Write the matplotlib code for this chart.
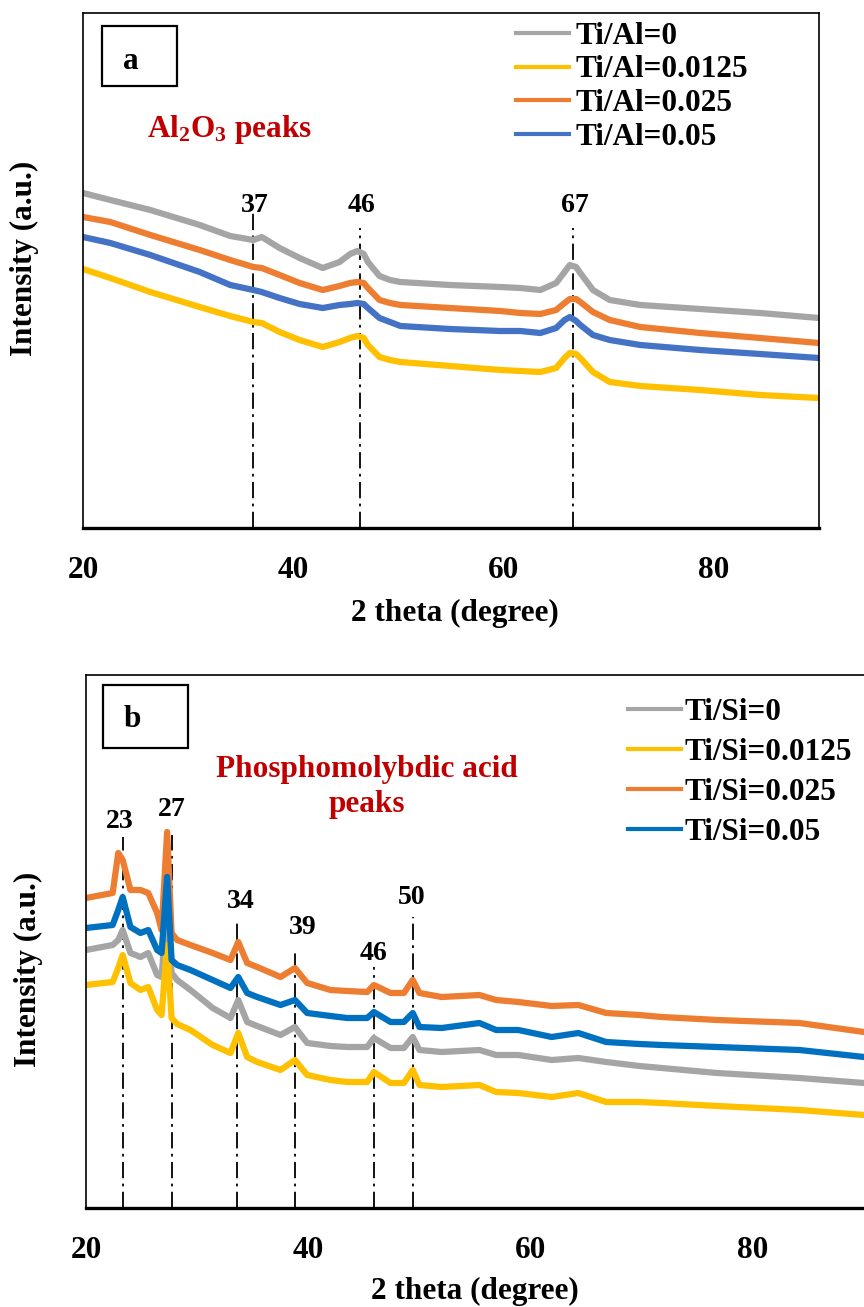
import matplotlib
matplotlib.use("Agg")
import matplotlib.pyplot as plt
from matplotlib.patches import Rectangle

# ---------- Fonts ----------
plt.rcParams["font.family"] = ["Liberation Serif", "DejaVu Serif"]
plt.rcParams["font.weight"] = "bold"
plt.rcParams["mathtext.fontset"] = "custom"
plt.rcParams["mathtext.rm"] = "Liberation Serif:bold"
plt.rcParams["mathtext.default"] = "rm"

FS = 22.5
RED = "#C00000"

# ---------- Data: panel a (Ti/Al) ----------
theta_a = [20.0, 22.6, 26.4, 31.1, 34.0, 36.2, 37.0, 38.7, 40.6, 42.8, 44.4, 45.4,
           46.1, 46.7, 47.1, 48.2, 49.2, 50.2, 54.9, 59.7, 61.6, 63.5, 65.0, 65.8,
           66.3, 66.9, 67.3, 68.5, 70.1, 73.0, 78.7, 84.4, 90.0]
al_0 = [335, 328, 318, 303, 292, 288, 291, 280, 270, 260, 266, 274,
        277, 274, 266, 252, 248, 246, 243, 241, 240, 238, 245, 256,
        263, 261, 255, 238, 228, 223, 219, 215, 210]
al_0125 = [259, 250, 236, 221, 212, 206, 205, 196, 188, 181, 186, 190,
           192, 190, 183, 171, 168, 166, 162, 158, 157, 156, 160, 170,
           175, 174, 170, 156, 146, 142, 138, 133, 130]
al_025 = [311, 306, 293, 278, 268, 261, 260, 253, 245, 238, 242, 245,
          246, 245, 240, 228, 225, 223, 220, 217, 215, 214, 218, 225,
          229, 229, 226, 216, 208, 201, 195, 190, 185]
al_05 = [291, 285, 273, 256, 243, 238, 236, 230, 224, 220, 223, 224,
         225, 224, 220, 210, 206, 202, 199, 197, 197, 195, 200, 208,
         211, 207, 203, 193, 188, 183, 178, 174, 170]
labels_a = ["Ti/Al=0", "Ti/Al=0.0125", "Ti/Al=0.025", "Ti/Al=0.05"]
peaks_a = [36.2, 46.3, 66.6]
peak_names_a = ["37", "46", "67"]
peak_tops_a = [315, 300, 300]

# ---------- Data: panel b (Ti/Si) ----------
theta_b = [20.0, 22.4, 22.9, 23.3, 24.0, 24.9, 25.6, 26.4, 26.8, 27.3, 27.7, 28.2,
           29.4, 31.4, 33.0, 33.7, 34.5, 35.4, 37.5, 38.8, 39.9, 42.0, 43.5, 45.3,
           45.9, 47.4, 48.6, 49.4, 50.0, 52.0, 55.4, 56.9, 58.9, 61.9, 64.3, 66.8,
           69.8, 71.8, 76.8, 84.2, 90.0]
si_0 = [258, 263, 268, 278, 255, 251, 255, 233, 231, 303, 235, 228,
        218, 200, 190, 208, 186, 182, 173, 181, 165, 162, 161, 161,
        170, 160, 160, 171, 158, 156, 158, 153, 153, 148, 150, 146,
        142, 140, 135, 130, 125]
si_0125 = [223, 226, 240, 253, 225, 218, 221, 198, 193, 263, 190, 184,
           178, 163, 155, 175, 151, 146, 138, 148, 133, 128, 126, 126,
           136, 125, 125, 138, 123, 121, 123, 116, 115, 111, 115, 106,
           106, 105, 102, 98, 93]
si_025 = [310, 315, 355, 348, 318, 318, 315, 295, 278, 376, 275, 268,
          263, 255, 248, 266, 245, 241, 231, 240, 225, 218, 217, 216,
          223, 215, 215, 228, 215, 211, 213, 208, 206, 202, 203, 195,
          193, 191, 188, 185, 176]
si_05 = [280, 283, 298, 311, 281, 275, 278, 258, 255, 331, 248, 243,
         238, 228, 220, 231, 215, 211, 203, 208, 195, 192, 190, 190,
         196, 186, 186, 195, 181, 180, 185, 178, 178, 171, 175, 166,
         164, 163, 161, 158, 151]
labels_b = ["Ti/Si=0", "Ti/Si=0.0125", "Ti/Si=0.025", "Ti/Si=0.05"]
peaks_b = [23.3, 27.7, 33.6, 38.8, 45.9, 49.4]
peak_names_b = ["23", "27", "34", "39", "46", "50"]
peak_tops_b = [371, 373, 288, 258, 241, 291]
peak_label_pos_b = [(23.0, 386), (27.7, 398), (33.9, 306), (39.5, 281), (45.9, 255), (49.3, 311)]

colors_a = ["#A5A5A5", "#FFC000", "#ED7D31", "#4472C4"]
colors_b = ["#A5A5A5", "#FFC000", "#ED7D31", "#0070C0"]
DASHDOT = (0, (9, 3, 1.5, 3))

fig = plt.figure(figsize=(8.64, 13.07), dpi=100)
ax_a = fig.add_axes([83 / 864, 1 - 528 / 1307, 736 / 864, 515 / 1307])
ax_b = fig.add_axes([86 / 864, 1 - 1208 / 1307, 778 / 864, 533 / 1307])


def style_axes(ax, ymax):
    ax.set_xlim(20, 90)
    ax.set_ylim(0, ymax)
    ax.set_xticks([20, 40, 60, 80])
    ax.set_yticks([])
    ax.tick_params(axis="x", length=0, pad=20, labelsize=FS)
    for s in ["left", "top", "right"]:
        ax.spines[s].set_linewidth(1.2)
    ax.spines["bottom"].set_linewidth(2.4)
    ax.set_xlabel("2 theta (degree)", fontsize=FS, fontweight="bold")
    ax.set_ylabel("Intensity (a.u.)", fontsize=FS, fontweight="bold")
    ax.xaxis.label.set_va("center")
    ax.yaxis.label.set_va("center")


# ---------- Panel a ----------
style_axes(ax_a, 515)
for ys, lab, c in zip([al_0, al_0125, al_025, al_05], labels_a, colors_a):
    ax_a.plot(theta_a, ys, color=c, lw=4.5, label=lab, solid_joinstyle="round")
for x, name, top in zip(peaks_a, peak_names_a, peak_tops_a):
    ax_a.plot([x, x], [0, top], color="black", lw=1.3, linestyle=DASHDOT, zorder=1)
    ax_a.text(x + 0.15, 322, name, fontsize=20, ha="center", va="center")
ax_a.xaxis.set_label_coords(0.505, -0.165)
ax_a.yaxis.set_label_coords(-0.079, 0.524)
ax_a.add_patch(Rectangle((0.0258, 0.858), 0.102, 0.117, transform=ax_a.transAxes,
                         fill=False, lw=1.6, edgecolor="black"))
ax_a.text(0.065, 0.905, "a", transform=ax_a.transAxes, fontsize=FS,
          ha="center", va="center")
ax_a.text(0.087, 0.773, "Al$_2$O$_3$ peaks", transform=ax_a.transAxes,
          fontsize=FS, color=RED, ha="left", va="center")
leg_a = ax_a.legend(loc="upper left", bbox_to_anchor=(0.588, 0.983), frameon=False,
                    fontsize=FS, handlelength=1.7, handletextpad=0.2,
                    labelspacing=0.15, borderpad=0, borderaxespad=0)
for h in leg_a.get_lines():
    h.set_linewidth(3)

# ---------- Panel b ----------
style_axes(ax_b, 533)
ax_b.spines["right"].set_visible(False)
for ys, lab, c in zip([si_0, si_0125, si_025, si_05], labels_b, colors_b):
    ax_b.plot(theta_b, ys, color=c, lw=4.5, label=lab, solid_joinstyle="round")
for x, top in zip(peaks_b, peak_tops_b):
    ax_b.plot([x, x], [0, top], color="black", lw=1.3, linestyle=DASHDOT, zorder=1)
for name, (lx, ly) in zip(peak_names_b, peak_label_pos_b):
    ax_b.text(lx, ly, name, fontsize=20, ha="center", va="center")
ax_b.xaxis.set_label_coords(0.5, -0.156)
ax_b.yaxis.set_label_coords(-0.0746, 0.447)
ax_b.add_patch(Rectangle((0.0219, 0.863), 0.109, 0.118, transform=ax_b.transAxes,
                         fill=False, lw=1.6, edgecolor="black"))
ax_b.text(0.059, 0.916, "b", transform=ax_b.transAxes, fontsize=FS,
          ha="center", va="center")
ax_b.text(0.361, 0.790, "Phosphomolybdic acid\npeaks", transform=ax_b.transAxes,
          fontsize=FS, color=RED, ha="center", va="center", linespacing=1.3)
leg_b = ax_b.legend(loc="upper left", bbox_to_anchor=(0.697, 0.957), frameon=False,
                    fontsize=FS, handlelength=1.7, handletextpad=0.1,
                    labelspacing=0.35, borderpad=0, borderaxespad=0)
for h in leg_b.get_lines():
    h.set_linewidth(3)

fig.savefig("out.png", dpi=100)
